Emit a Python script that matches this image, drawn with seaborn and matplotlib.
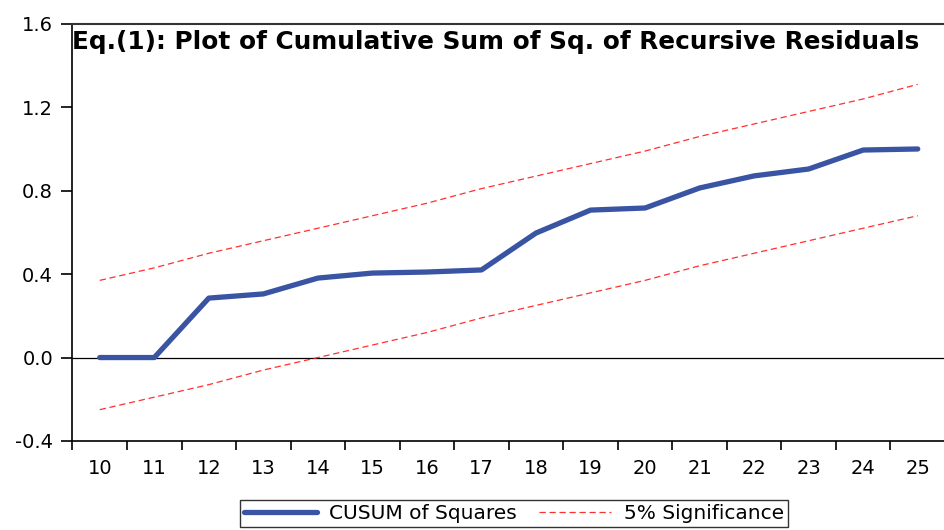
import pandas as pd
import seaborn as sns
import matplotlib.pyplot as plt

# Values
periods = list(range(10, 26))
cusum_sq = [0.0, 0.0, 0.285, 0.305, 0.381, 0.405, 0.41, 0.42,
            0.597, 0.707, 0.717, 0.813, 0.871, 0.904, 0.995, 1.0]
upper_5 = [0.37, 0.43, 0.50, 0.56, 0.62, 0.68, 0.74, 0.81,
           0.87, 0.93, 0.99, 1.06, 1.12, 1.18, 1.24, 1.31]
lower_5 = [-0.25, -0.19, -0.13, -0.06, 0.00, 0.06, 0.12, 0.19,
           0.25, 0.31, 0.37, 0.44, 0.50, 0.56, 0.62, 0.68]
y_ticks = [-0.4, 0.0, 0.4, 0.8, 1.2, 1.6]

df = pd.DataFrame({"t": periods, "cusum": cusum_sq,
                   "upper": upper_5, "lower": lower_5})

sns.set_style("ticks")
plt.rcParams['font.family'] = ['DejaVu Sans']
plt.rcParams.update({"text.color": "black", "xtick.color": "black",
                     "ytick.color": "black", "axes.labelcolor": "black"})

fig = plt.figure(figsize=(9.45, 5.3), dpi=100)
ax = fig.add_axes([0.0767, 0.168, 0.9233, 0.787])

ax.axhline(0, color="black", lw=0.9, zorder=1)
sns.lineplot(data=df, x="t", y="upper", ax=ax, color="#ff3030",
             lw=0.9, linestyle=(0, (5, 3)), label="5% Significance")
sns.lineplot(data=df, x="t", y="lower", ax=ax, color="#ff3030",
             lw=0.9, linestyle=(0, (5, 3)), label="_nolegend_")
sns.lineplot(data=df, x="t", y="cusum", ax=ax, color="#3a54a4",
             lw=3.8, solid_capstyle="round", label="CUSUM of Squares",
             zorder=3)

ax.set_xlim(9.5, 9.5 + (945 - 72.5) / 55)
ax.set_ylim(-0.4, 1.6)
ax.set_yticks(y_ticks)
ax.set_yticklabels([f"{v:.1f}" for v in y_ticks])
ax.set_xticks(periods)
ax.set_xticklabels([str(p) for p in periods])
ax.set_xticks([p - 0.5 for p in periods] + [25.5], minor=True)
ax.tick_params(axis="x", which="major", length=0, pad=13, labelsize=14)
ax.tick_params(axis="x", which="minor", length=6.5, width=1.2, direction="out")
ax.tick_params(axis="y", length=8, width=1.2, direction="out", labelsize=14, pad=6)
ax.set_xlabel("")
ax.set_ylabel("")

for s in ["left", "bottom"]:
    ax.spines[s].set_color("black")
    ax.spines[s].set_linewidth(1.2)
ax.spines["top"].set_color("#333333")
ax.spines["top"].set_linewidth(1.5)
ax.spines["right"].set_visible(False)

ax.text(0.0, 0.985, "Eq.(1): Plot of Cumulative Sum of Sq. of Recursive Residuals",
        transform=ax.transAxes, ha="left", va="top", fontsize=17.8,
        fontweight="bold", color="black")

handles, labels = ax.get_legend_handles_labels()
ax.get_legend().remove()
order = [labels.index("CUSUM of Squares"), labels.index("5% Significance")]
leg = fig.legend([handles[i] for i in order], [labels[i] for i in order],
                 loc="upper center", bbox_to_anchor=(0.544, 0.075), ncol=2,
                 frameon=True, fancybox=False, fontsize=14.5, handlelength=3.6,
                 columnspacing=1.1, borderpad=0.2, handletextpad=0.6)
leg.get_frame().set_edgecolor("black")
leg.get_frame().set_linewidth(1.0)

fig.savefig("out.png", dpi=100)
